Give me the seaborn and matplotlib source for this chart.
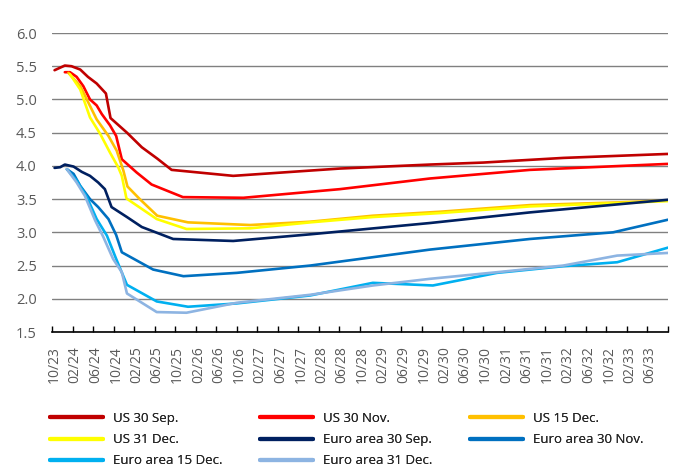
import matplotlib
matplotlib.use("Agg")
import matplotlib.pyplot as plt
from matplotlib.lines import Line2D
from matplotlib.ticker import FixedLocator, FormatStrFormatter
import numpy as np
import pandas as pd
import seaborn as sns

# Forward curves: months since October 2023 and implied policy rate (%)
curve_names = [
    "US 30 Sep.", "US 30 Nov.", "US 15 Dec.", "US 31 Dec.",
    "Euro area 30 Sep.", "Euro area 30 Nov.", "Euro area 15 Dec.", "Euro area 31 Dec.",
]
curve_colors = [
    "#C00000", "#FF0000", "#FFC000", "#FFFF00",
    "#002060", "#0070C0", "#00B0F0", "#8DB4E2",
]

us_sep_m = [0, 2.0, 3.3, 5.0, 6.5, 8.2, 10.0, 10.9, 14.1, 17.0, 20.0, 22.8, 34.8, 55.6, 73.1, 83.5, 99.1, 119.5]
us_sep_v = [5.44, 5.51, 5.50, 5.45, 5.34, 5.24, 5.09, 4.72, 4.50, 4.28, 4.11, 3.94, 3.85, 3.96, 4.02, 4.05, 4.12, 4.18]

us_nov_m = [2.0, 3.0, 4.3, 5.6, 6.9, 8.2, 9.2, 10.8, 12.0, 13.1, 16.0, 18.9, 25.0, 36.8, 55.6, 73.1, 92.6, 119.5]
us_nov_v = [5.41, 5.41, 5.34, 5.20, 5.00, 4.91, 4.78, 4.61, 4.45, 4.10, 3.90, 3.72, 3.53, 3.52, 3.65, 3.81, 3.94, 4.03]

us_dec15_m = [2.7, 5.0, 6.6, 8.2, 10.5, 12.1, 13.4, 14.2, 16.6, 20.0, 26.0, 38.1, 49.8, 62.0, 75.1, 92.6, 109.6, 119.5]
us_dec15_v = [5.40, 5.20, 4.95, 4.70, 4.45, 4.23, 3.93, 3.69, 3.50, 3.25, 3.15, 3.11, 3.16, 3.25, 3.31, 3.41, 3.45, 3.48]

us_dec31_m = [3.0, 5.0, 6.9, 8.9, 10.8, 12.4, 13.1, 14.0, 19.9, 25.7, 38.1, 49.8, 62.0, 75.1, 92.6, 109.6, 119.5]
us_dec31_v = [5.38, 5.15, 4.73, 4.48, 4.20, 3.98, 3.85, 3.51, 3.20, 3.05, 3.06, 3.15, 3.23, 3.29, 3.39, 3.44, 3.47]

ea_sep_m = [0, 1.1, 2.0, 3.7, 5.3, 6.9, 8.5, 9.8, 11.1, 14.1, 17.0, 23.1, 34.8, 49.8, 73.1, 92.6, 119.5]
ea_sep_v = [3.97, 3.98, 4.02, 3.99, 3.91, 3.85, 3.75, 3.65, 3.38, 3.23, 3.08, 2.90, 2.87, 2.97, 3.14, 3.30, 3.49]

ea_nov_m = [2.4, 3.7, 5.0, 6.9, 8.5, 10.5, 12.0, 13.1, 19.2, 25.1, 35.5, 49.8, 73.1, 92.6, 108.8, 119.5]
ea_nov_v = [3.95, 3.88, 3.70, 3.50, 3.38, 3.20, 2.96, 2.70, 2.44, 2.34, 2.39, 2.50, 2.74, 2.90, 3.00, 3.19]

ea_dec15_m = [2.4, 4.3, 6.3, 8.2, 10.2, 12.0, 14.1, 19.9, 26.0, 35.5, 49.8, 62.0, 73.7, 86.2, 99.1, 109.6, 119.5]
ea_dec15_v = [3.95, 3.78, 3.53, 3.20, 2.95, 2.60, 2.21, 1.96, 1.88, 1.93, 2.05, 2.24, 2.20, 2.39, 2.49, 2.55, 2.77]

ea_dec31_m = [2.4, 4.3, 5.9, 7.9, 9.5, 11.4, 13.1, 14.1, 19.9, 25.7, 35.5, 49.8, 62.0, 73.1, 86.2, 99.1, 109.6, 119.5]
ea_dec31_v = [3.95, 3.75, 3.55, 3.18, 2.93, 2.60, 2.40, 2.08, 1.80, 1.79, 1.94, 2.06, 2.20, 2.30, 2.40, 2.50, 2.65, 2.69]

tick_labels = [
    "10/23", "02/24", "06/24", "10/24", "02/25", "06/25", "10/25", "02/26",
    "06/26", "10/26", "02/27", "06/27", "10/27", "02/28", "06/28", "10/28",
    "02/29", "06/29", "10/29", "02/30", "06/30", "10/30", "02/31", "06/31",
    "10/31", "02/32", "06/32", "10/32", "02/33", "06/33",
]

series = [
    (us_sep_m, us_sep_v), (us_nov_m, us_nov_v), (us_dec15_m, us_dec15_v), (us_dec31_m, us_dec31_v),
    (ea_sep_m, ea_sep_v), (ea_nov_m, ea_nov_v), (ea_dec15_m, ea_dec15_v), (ea_dec31_m, ea_dec31_v),
]
frames = [pd.DataFrame({"month": m, "rate": v, "curve": name})
          for name, (m, v) in zip(curve_names, series)]
df = pd.concat(frames, ignore_index=True)

sns.set_theme(style="white")
plt.rcParams["font.family"] = ["Open Sans", "DejaVu Sans"]
text_grey = "#595959"

fig = plt.figure(figsize=(6.81, 4.68), dpi=100)
W, H = 681, 468
ax = fig.add_axes([52 / W, 1 - 332 / H, 616 / W, 299 / H])

sns.lineplot(data=df, x="month", y="rate", hue="curve", hue_order=curve_names,
             palette=curve_colors, estimator=None, linewidth=1.9, legend=False,
             ax=ax, zorder=3)

# y axis: horizontal gridlines only
ax.set_ylim(1.5, 6.0)
ax.set_yticks(np.arange(1.5, 6.01, 0.5))
ax.yaxis.set_major_formatter(FormatStrFormatter("%.1f"))
ax.yaxis.grid(True, color="#808080", linewidth=1.0, zorder=0)
ax.tick_params(axis="y", length=0, pad=11, labelsize=10.5, labelcolor=text_grey)

# x axis: labels every four months, small inward marks between categories
ax.set_xlim(-0.5, 119.5)
label_pos = np.arange(0, 4 * len(tick_labels), 4)
ax.set_xticks(label_pos)
ax.set_xticklabels(tick_labels, rotation=90)
ax.xaxis.set_minor_locator(FixedLocator(np.arange(-0.5, 120, 4)))
ax.tick_params(axis="x", which="major", length=0, pad=10, labelsize=10, labelcolor=text_grey)
ax.tick_params(axis="x", which="minor", bottom=True, direction="in", length=4,
               width=1.0, color="black")
ax.set_xlabel("")
ax.set_ylabel("")

for side in ("left", "right", "top"):
    ax.spines[side].set_visible(False)
ax.spines["bottom"].set_color("black")
ax.spines["bottom"].set_linewidth(1.2)
ax.spines["bottom"].set_zorder(4)

# Legend laid out in three columns, filled row by row
handles = [Line2D([], [], color=c, linewidth=3.0) for c in curve_colors]
columns = [[0, 3, 6], [1, 4, 7], [2, 5]]
col_x = [50, 260, 470]
for idx, x0 in zip(columns, col_x):
    leg = fig.legend([handles[i] for i in idx], [curve_names[i] for i in idx],
                     loc="upper left", bbox_to_anchor=(x0 / W, 1 - 412 / H),
                     bbox_transform=fig.transFigure, frameon=False,
                     borderpad=0, borderaxespad=0, handlelength=4.0,
                     handletextpad=0.75, labelspacing=0.62,
                     prop={"size": 9.5}, labelcolor="#262626")
    fig.add_artist(leg)

fig.savefig("out.png", dpi=100)
